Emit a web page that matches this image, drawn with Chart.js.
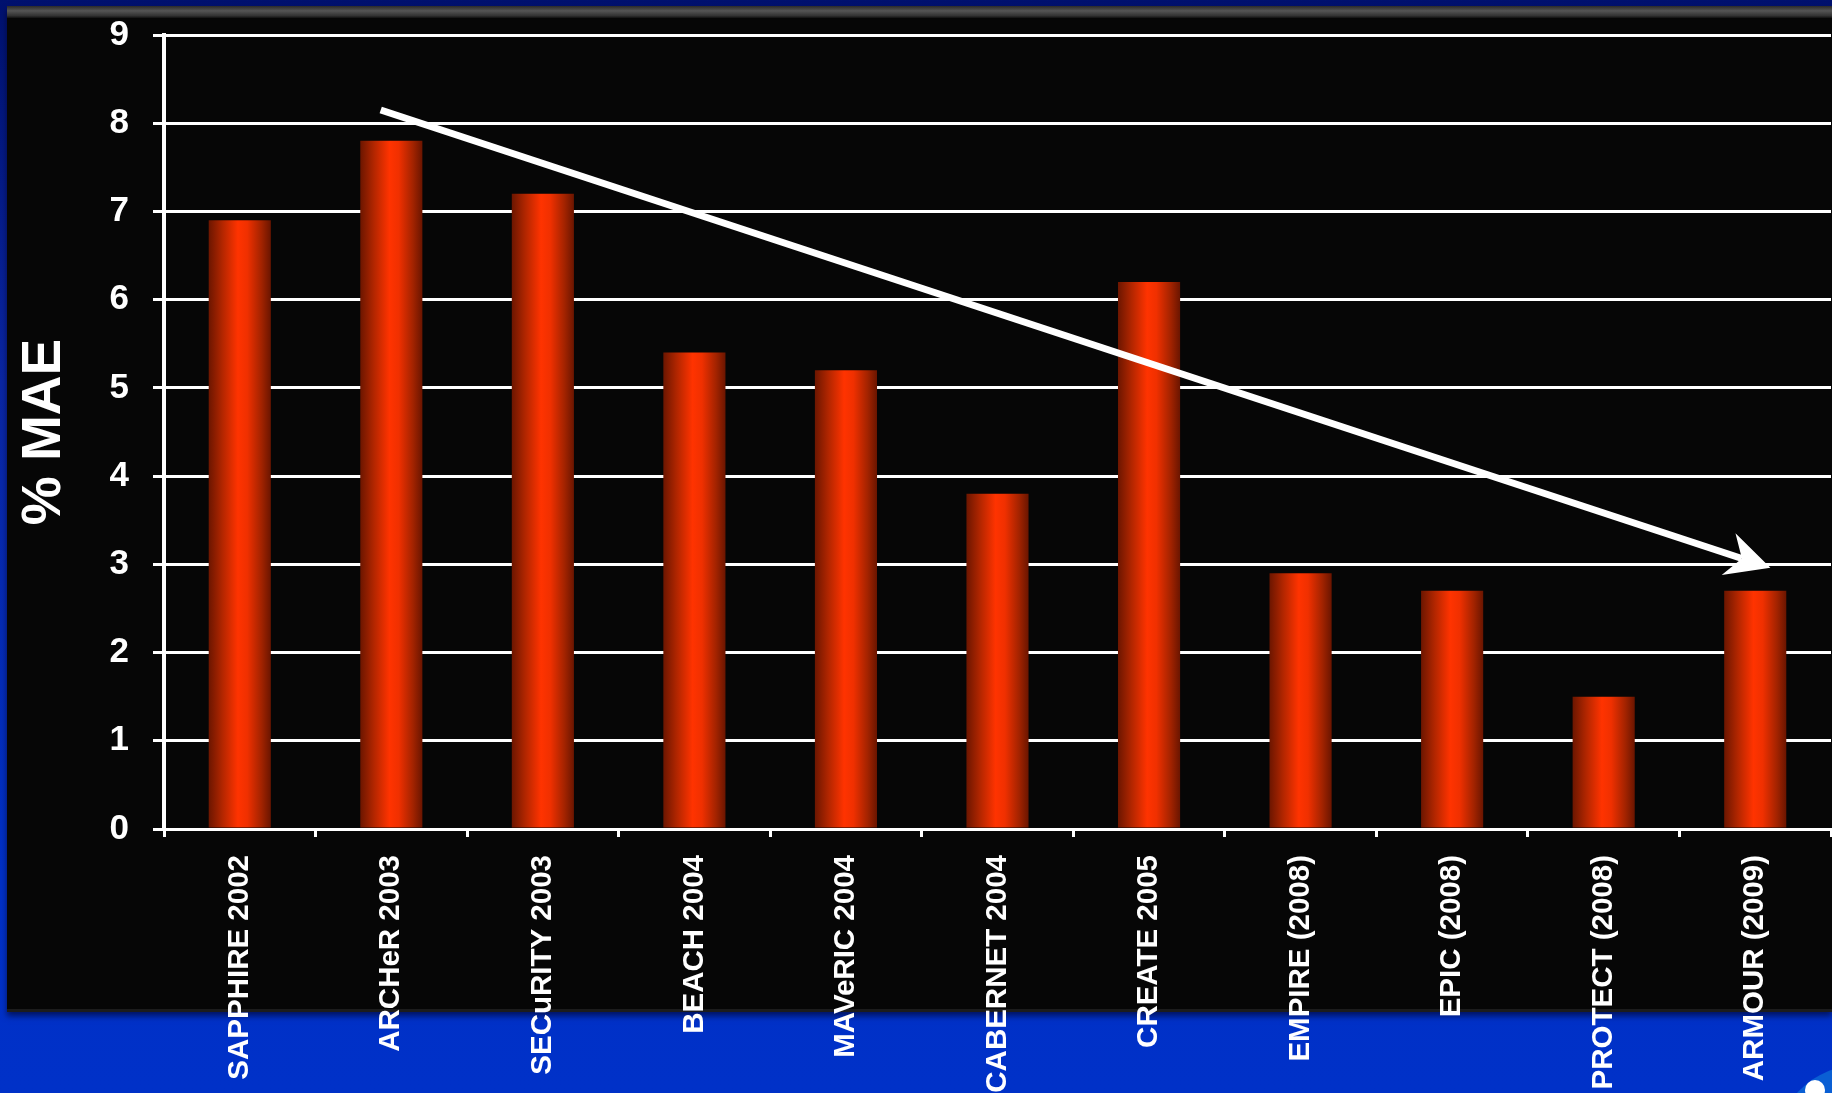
<!DOCTYPE html>
<html>
<head>
<meta charset="utf-8">
<script src="https://cdn.jsdelivr.net/npm/chart.js@4"></script>
<style>
  html, body { margin: 0; padding: 0; overflow: hidden; }
  body {
    width: 1832px; height: 1093px; position: relative;
    background: linear-gradient(to bottom, #00116e 0%, #0a26a4 35%, #0030c6 80%, #0031c8 100%);
  }
  .panel {
    position: absolute; left: 7px; top: 6px; right: 0; height: 1006px;
    background: #060606;
    box-shadow: 0 4px 6px rgba(0, 0, 30, 0.6);
    border-bottom: 3px solid #1c1c1c;
    box-sizing: border-box;
  }
  .bevel {
    position: absolute; left: 0; right: 0; top: 0; height: 12px;
    background: linear-gradient(to bottom, #2a2a2a 0%, #555 40%, #333 80%, #111 100%);
  }
  .logo {
    position: absolute; left: 1775px; top: 1065px; width: 170px; height: 170px;
    border-radius: 50%; background: #0a5fd4;
  }
  .dot {
    position: absolute; left: 1805px; top: 1080px; width: 20px; height: 20px;
    border-radius: 50%; background: #fff;
  }
  canvas { position: absolute; left: 0; top: 0; }
</style>
</head>
<body>
<div class="panel"><div class="bevel"></div></div>
<div class="logo"></div>
<div class="dot"></div>
<canvas id="chart" width="1832" height="1093"></canvas>
<script>
const categories = [
  'SAPPHIRE 2002', 'ARCHeR 2003', 'SECuRITY 2003', 'BEACH 2004', 'MAVeRIC 2004',
  'CABERNET 2004', 'CREATE 2005', 'EMPIRE (2008)', 'EPIC (2008)', 'PROTECT (2008)', 'ARMOUR (2009)'
];
const maeValues = [6.9, 7.8, 7.2, 5.4, 5.2, 3.8, 6.2, 2.9, 2.7, 1.5, 2.7];
const yTicks = [0, 1, 2, 3, 4, 5, 6, 7, 8, 9];
// trend arrow, in [category index, value]
const arrowFrom = [0.93, 8.15];
const arrowTo = [10.1, 2.96];

const fontFamily = '"Liberation Sans", Arial, sans-serif';
const barPct = 0.41;

function barFill(ctx) {
  const chart = ctx.chart;
  const xs = chart.scales.x;
  if (!chart.chartArea || !xs || ctx.type !== 'data') return '#ff3300';
  const w = xs.width / categories.length * barPct;
  const cx = xs.getPixelForValue(ctx.dataIndex);
  const g = chart.ctx.createLinearGradient(cx - w / 2, 0, cx + w / 2, 0);
  g.addColorStop(0, '#6c1600');
  g.addColorStop(0.22, '#b22600');
  g.addColorStop(0.47, '#ff3300');
  g.addColorStop(0.62, '#f03000');
  g.addColorStop(0.85, '#a22300');
  g.addColorStop(1, '#6a1500');
  return g;
}

const trendArrow = {
  id: 'trendArrow',
  afterDatasetsDraw(chart) {
    const { ctx, scales: { x, y } } = chart;
    const x1 = x.getPixelForValue(arrowFrom[0]), y1 = y.getPixelForValue(arrowFrom[1]);
    const x2 = x.getPixelForValue(arrowTo[0]), y2 = y.getPixelForValue(arrowTo[1]);
    const ang = Math.atan2(y2 - y1, x2 - x1);
    const ux = Math.cos(ang), uy = Math.sin(ang);
    const nx = -uy, ny = ux;
    const back = 44, half = 22, notch = 30;
    ctx.save();
    ctx.strokeStyle = '#ffffff';
    ctx.fillStyle = '#ffffff';
    ctx.lineWidth = 7;
    ctx.beginPath();
    ctx.moveTo(x1, y1);
    ctx.lineTo(x2 - ux * notch, y2 - uy * notch);
    ctx.stroke();
    ctx.beginPath();
    ctx.moveTo(x2, y2);
    ctx.lineTo(x2 - ux * back + nx * half, y2 - uy * back + ny * half);
    ctx.lineTo(x2 - ux * notch, y2 - uy * notch);
    ctx.lineTo(x2 - ux * back - nx * half, y2 - uy * back - ny * half);
    ctx.closePath();
    ctx.fill();
    ctx.restore();
  }
};

new Chart(document.getElementById('chart'), {
  type: 'bar',
  data: {
    labels: categories,
    datasets: [{
      label: '% MAE',
      data: maeValues,
      backgroundColor: barFill,
      borderWidth: 0,
      categoryPercentage: 1,
      barPercentage: barPct
    }]
  },
  options: {
    responsive: false,
    animation: false,
    layout: { padding: { top: 35, left: 0, right: 1, bottom: 0 } },
    plugins: {
      legend: { display: false },
      tooltip: { enabled: false }
    },
    scales: {
      x: {
        afterFit: (scale) => { scale.height = 264; },
        grid: {
          display: true,
          drawOnChartArea: false,
          drawTicks: true,
          tickLength: 8,
          color: '#ffffff',
          lineWidth: 3,
          offset: true
        },
        border: { display: true, color: '#ffffff', width: 3 },
        ticks: {
          autoSkip: false,
          maxRotation: 90,
          minRotation: 90,
          padding: 18,
          color: '#ffffff',
          font: { family: fontFamily, size: 29.5, weight: 'bold' }
        }
      },
      y: {
        min: 0,
        max: 9,
        afterFit: (scale) => {
          scale.width = 164;
          scale.paddingTop = 0;
          scale.paddingBottom = 0;
        },
        afterBuildTicks: (scale) => { scale.ticks = yTicks.map(v => ({ value: v })); },
        grid: {
          color: '#ffffff',
          lineWidth: 3,
          drawTicks: true,
          tickLength: 11
        },
        border: { display: true, color: '#ffffff', width: 4 },
        ticks: {
          padding: 24,
          color: '#ffffff',
          font: { family: fontFamily, size: 35, weight: 'bold' }
        },
        title: {
          display: true,
          text: '% MAE',
          color: '#ffffff',
          padding: { top: 17, bottom: 0 },
          font: { family: fontFamily, size: 55, weight: 'bold', lineHeight: 1 }
        }
      }
    }
  },
  plugins: [trendArrow]
});
</script>
</body>
</html>
